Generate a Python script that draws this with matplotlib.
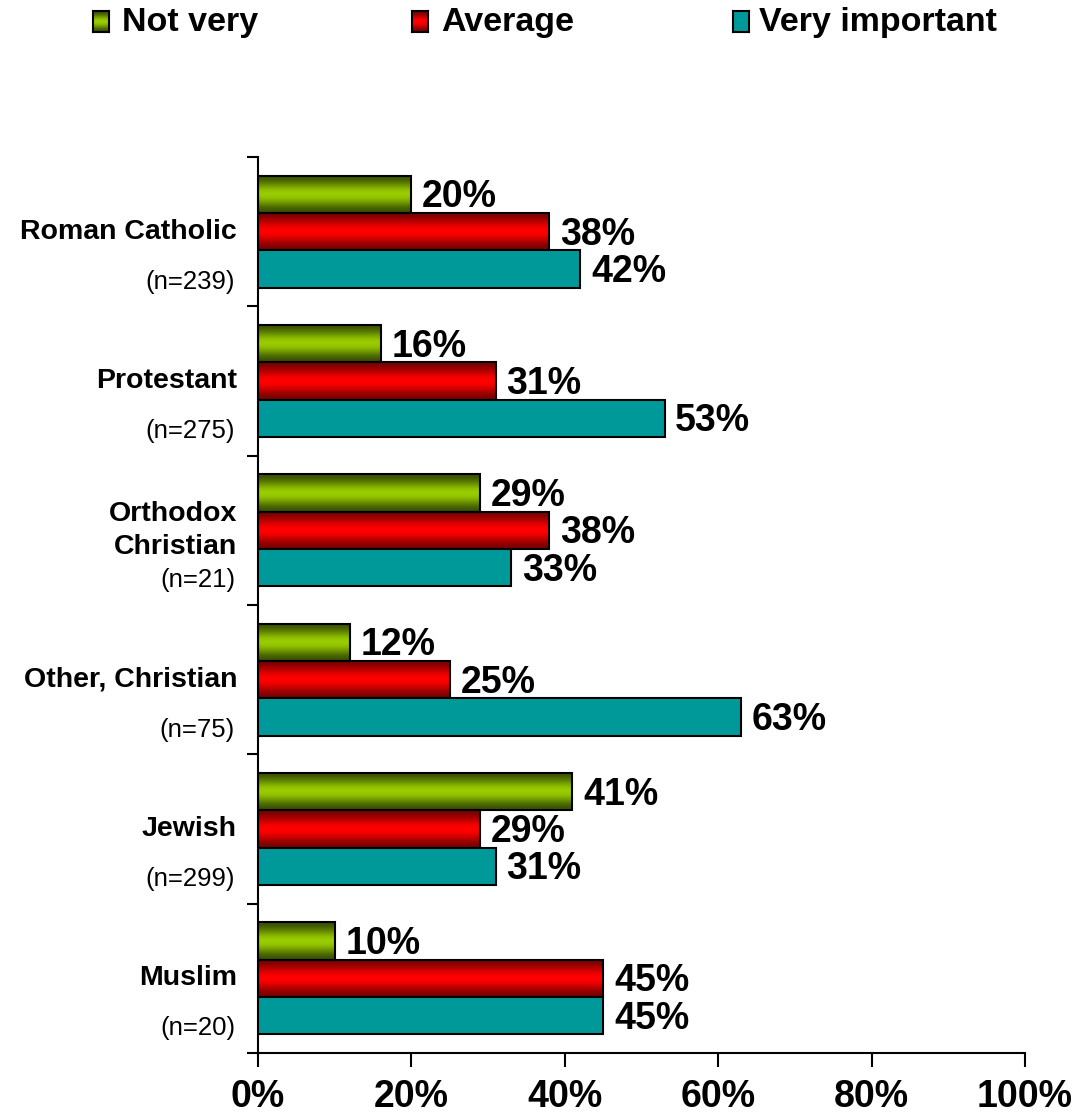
import matplotlib
matplotlib.use("Agg")
import matplotlib.pyplot as plt
import numpy as np
from matplotlib.colors import LinearSegmentedColormap
import matplotlib.transforms as mtransforms

plt.rcParams['font.family'] = ['Liberation Sans', 'DejaVu Sans']

categories = ["Roman Catholic", "Protestant", "Orthodox\nChristian", "Other, Christian", "Jewish", "Muslim"]
sample_sizes = ["(n=239)", "(n=275)", "(n=21)", "(n=75)", "(n=299)", "(n=20)"]
not_very = [20, 16, 29, 12, 41, 10]
average = [38, 31, 38, 25, 29, 45]
very_important = [42, 53, 33, 63, 31, 45]
series_names = ["Not very", "Average", "Very important"]
x_ticks = [0, 20, 40, 60, 80, 100]
x_ticklabels = ["0%", "20%", "40%", "60%", "80%", "100%"]

W, H = 1080, 1118
fig = plt.figure(figsize=(W/100, H/100), dpi=100)
ax = fig.add_axes([258/W, 65/H, (1025-258)/W, (1053-157)/H])

prof = np.linspace(0, 1, 64)
vals = 0.5 - 0.5*np.cos(2*np.pi*prof)  # 0 at edges, 1 center
g_img = np.column_stack([vals, vals])

cmap_g2 = LinearSegmentedColormap.from_list("g2", ["#3a5200", "#99cc00"])
cmap_r2 = LinearSegmentedColormap.from_list("r2", ["#7a0000", "#ff0000"])
cmaps = [cmap_g2, cmap_r2, None]

bar_h = 0.25
n = len(categories)
ypos = np.arange(n)
series = [not_very, average, very_important]
offsets = [-bar_h, 0, bar_h]

for si, (vals_s, off) in enumerate(zip(series, offsets)):
    for i, v in enumerate(vals_s):
        yc = ypos[i] + off
        y0, y1 = yc - bar_h/2, yc + bar_h/2
        if cmaps[si] is not None:
            ax.imshow(g_img, cmap=cmaps[si], vmin=0, vmax=1, aspect='auto',
                      extent=[0, v, y1, y0], interpolation='bilinear', zorder=2)
            ax.barh(yc, v, height=bar_h, color='none', edgecolor='black', linewidth=1.5, zorder=3)
        else:
            ax.barh(yc, v, height=bar_h, color="#009999", edgecolor='black', linewidth=1.5, zorder=3)
        ax.text(v + 1.4, yc + 0.02, f"{v}%", ha='left', va='center', fontsize=27,
                fontweight='bold', zorder=4)

ax.set_xlim(0, 100)
ax.set_ylim(n - 0.5, -0.5)
ax.set_xticks(x_ticks)
ax.set_xticklabels(x_ticklabels, fontsize=27, fontweight='bold')
ax.set_yticks(np.arange(n + 1) - 0.5)
ax.set_yticklabels([])
ax.tick_params(axis='x', direction='out', length=10, width=1.5, pad=9)
ax.tick_params(axis='y', direction='out', length=8, width=1.5)
for s in ['top', 'right']:
    ax.spines[s].set_visible(False)
for s in ['left', 'bottom']:
    ax.spines[s].set_linewidth(1.5)

trans = mtransforms.blended_transform_factory(fig.transFigure, ax.transData)
for i, (c, ns) in enumerate(zip(categories, sample_sizes)):
    ax.text(237/W, ypos[i], c, transform=trans, ha='right', va='center',
            fontsize=20.5, fontweight='bold', linespacing=1.35)
    ax.text(235/W, ypos[i] + 0.335, ns, transform=trans, ha='right', va='center',
            fontsize=18.5)

# legend
leg_marker_x = [93, 412, 733]
leg_text_x = [122, 441, 759]
for mx, tx, name, cm in zip(leg_marker_x, leg_text_x, series_names, cmaps):
    lax = fig.add_axes([mx/W, (H-32)/H, 16/W, 21/H])
    if cm is not None:
        lax.imshow(g_img, cmap=cm, vmin=0, vmax=1, aspect='auto', interpolation='bilinear')
    else:
        lax.set_facecolor("#009999")
    lax.set_xticks([]); lax.set_yticks([])
    for s in lax.spines.values():
        s.set_linewidth(1.5)
    fig.text(tx/W, (H-22)/H, name, ha='left', va='center', fontsize=24.5, fontweight='bold')

fig.savefig("out.png", dpi=100)
